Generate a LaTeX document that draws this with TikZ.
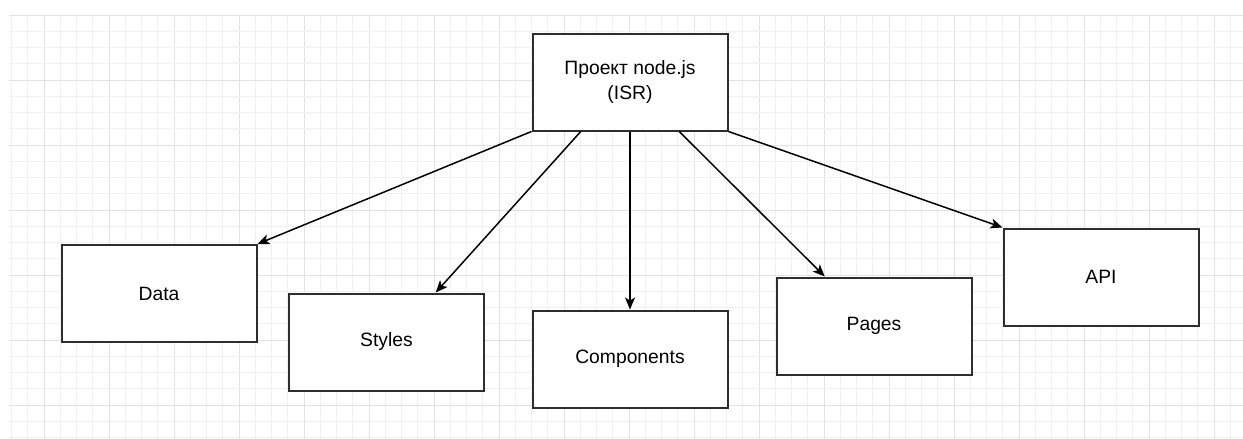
\documentclass[tikz,border=0pt]{standalone}
\usepackage{fontspec}
\setmainfont{Liberation Sans}
\usetikzlibrary{arrows.meta,calc}
\definecolor{minorgrid}{HTML}{F1F1F1}
\definecolor{majorgrid}{HTML}{E2E2E2}
\definecolor{boxline}{HTML}{2E2E2E}
\begin{document}
\begin{tikzpicture}[x=1pt,y=-1pt,
  box/.style={draw=boxline,line width=2pt,fill=white,minimum width=195pt,minimum height=97pt,inner sep=0pt,anchor=north west,align=center,font=\fontsize{19.3}{25}\selectfont},
  conn/.style={draw=black,line width=1.5pt,-{Stealth[length=12pt,width=10pt,inset=3pt]}}]
\useasboundingbox (0,0) rectangle (1243,439);
\fill[white] (0,0) rectangle (1243,439);
\begin{scope}
\clip (9,15) rectangle (1243,439);
\foreach \i in {0,...,75}{
  \pgfmathtruncatemacro{\m}{mod(\i,4)}
  \ifnum\m=2\relax
    \draw[majorgrid,line width=1pt] ({11.5+16.25*\i},15) -- ({11.5+16.25*\i},439);
  \else
    \draw[minorgrid,line width=0.9pt] ({11.5+16.25*\i},15) -- ({11.5+16.25*\i},439);
  \fi
}
\foreach \j in {0,...,26}{
  \pgfmathtruncatemacro{\m}{mod(\j,4)}
  \ifnum\m=0\relax
    \draw[majorgrid,line width=1pt] (9,{15+16.25*\j}) -- (1243,{15+16.25*\j});
  \else
    \draw[minorgrid,line width=0.9pt] (9,{15+16.25*\j}) -- (1243,{15+16.25*\j});
  \fi
}
\end{scope}
\node[box] (top) at (531.5,32.5) {Проект node.js\\(ISR)};
\node[box] (data) at (60.5,244) {Data};
\node[box] (styles) at (288,292.5) {Styles};
\node[box] (comp) at (531.5,309.5) {Components};
\node[box] (pages) at (775.5,276.5) {Pages};
\node[box] (api) at (1002.5,227.5) {API};
\draw[conn] (top.south west) -- (data.north east);
\draw[conn] ($(top.south west)!0.25!(top.south east)$) -- ($(styles.north west)!0.75!(styles.north east)$);
\draw[conn] (top.south) -- (comp.north);
\draw[conn] ($(top.south west)!0.75!(top.south east)$) -- ($(pages.north west)!0.25!(pages.north east)$);
\draw[conn] (top.south east) -- (api.north west);
\end{tikzpicture}
\end{document}
